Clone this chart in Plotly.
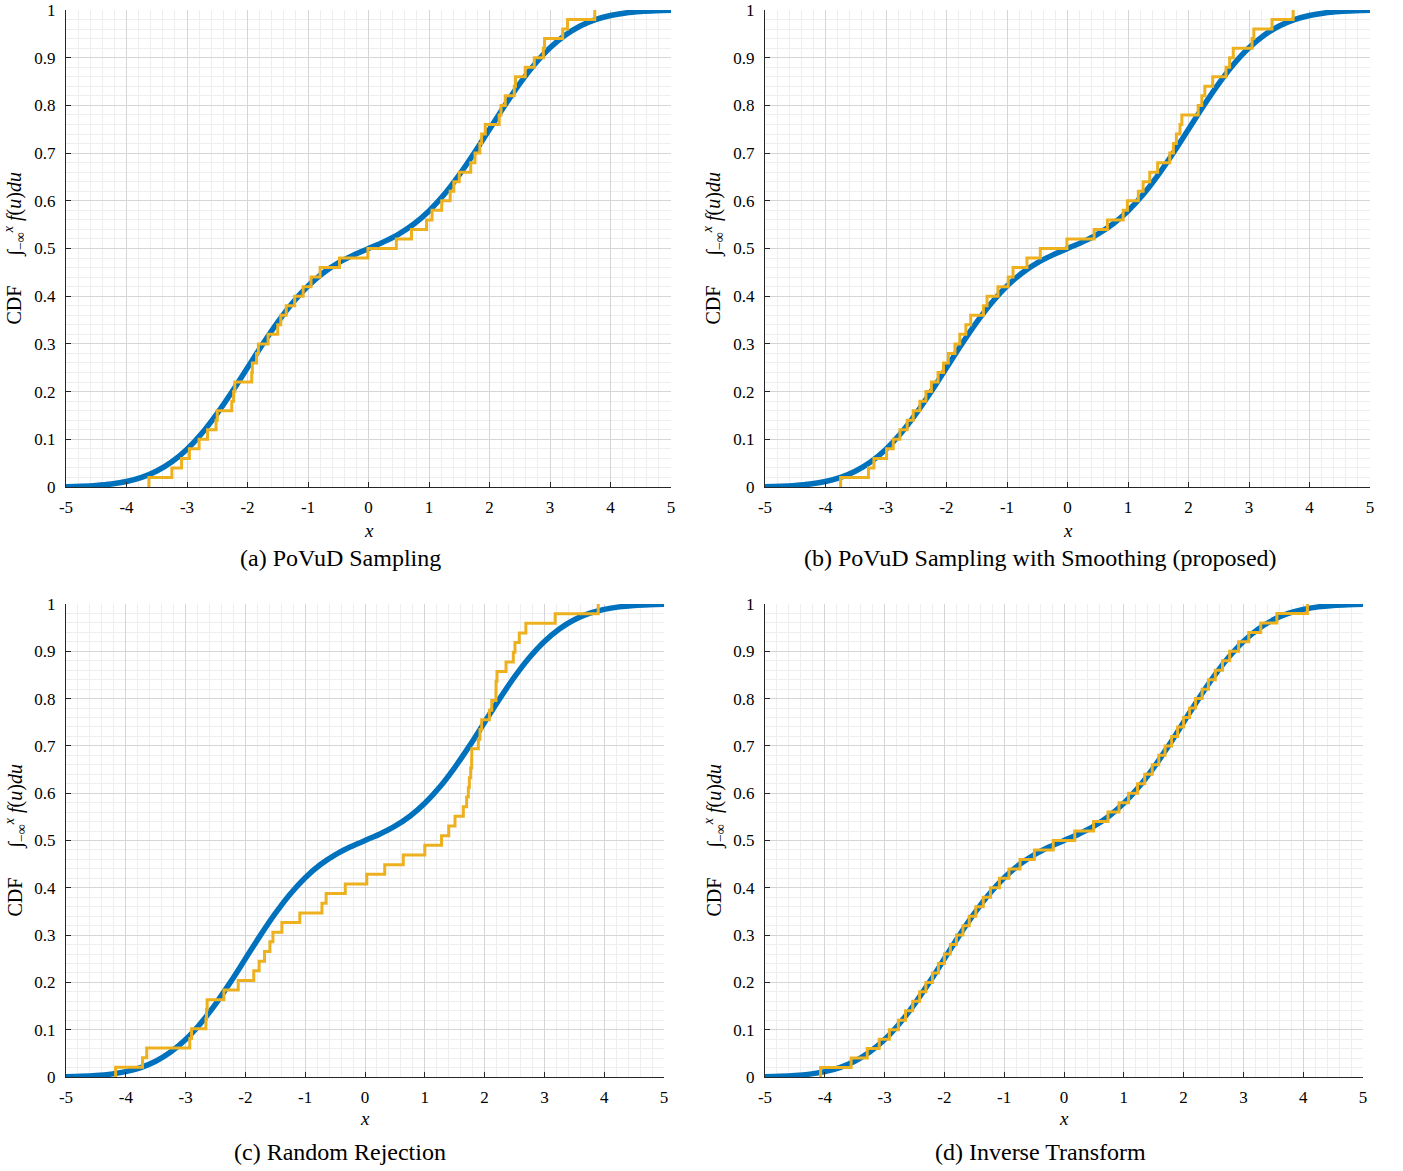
import plotly.graph_objects as go

# ---------------- data ----------------
cdf_x = [-5, -4.75, -4.5, -4.25, -4, -3.75, -3.5, -3.25, -3, -2.75, -2.5, -2.25, -2,
         -1.75, -1.5, -1.25, -1, -0.75, -0.5, -0.25, 0, 0.25, 0.5, 0.75, 1, 1.25, 1.5,
         1.75, 2, 2.25, 2.5, 2.75, 3, 3.25, 3.5, 3.75, 4, 4.25, 4.5, 4.75, 5]
cdf_y = [0.0007, 0.0015, 0.0031, 0.0061, 0.0114, 0.0200, 0.0334, 0.0528, 0.0793, 0.1133,
         0.1543, 0.2006, 0.2500, 0.2994, 0.3458, 0.3870, 0.4213, 0.4487, 0.4697, 0.4861,
         0.5000, 0.5139, 0.5303, 0.5513, 0.5787, 0.6130, 0.6542, 0.7006, 0.7500, 0.7994,
         0.8457, 0.8867, 0.9207, 0.9472, 0.9666, 0.9800, 0.9886, 0.9939, 0.9969, 0.9985,
         0.9993]

samples_a = [-3.63, -3.25, -3.09, -2.96, -2.80, -2.66, -2.52, -2.50, -2.26, -2.23,
             -2.21, -1.93, -1.92, -1.85, -1.82, -1.66, -1.50, -1.45, -1.36, -1.22,
             -1.08, -0.95, -0.80, -0.48, -0.01, 0.46, 0.71, 0.96, 1.05, 1.21,
             1.35, 1.41, 1.50, 1.69, 1.76, 1.84, 1.87, 1.93, 2.16, 2.19,
             2.26, 2.41, 2.43, 2.59, 2.74, 2.89, 2.91, 3.21, 3.29, 3.74]
samples_b = [-3.75, -3.29, -3.20, -2.99, -2.88, -2.77, -2.65, -2.55, -2.44, -2.34,
             -2.25, -2.14, -2.05, -1.97, -1.86, -1.78, -1.68, -1.60, -1.39, -1.33,
             -1.15, -0.98, -0.90, -0.67, -0.45, -0.01, 0.44, 0.66, 0.92, 0.99,
             1.17, 1.25, 1.36, 1.49, 1.69, 1.75, 1.80, 1.86, 1.89, 2.16,
             2.22, 2.27, 2.40, 2.62, 2.68, 2.74, 3.05, 3.08, 3.38, 3.73]
samples_c = [-4.17, -3.72, -3.65, -2.93, -2.90, -2.66, -2.65, -2.64, -2.36, -2.12,
             -1.86, -1.77, -1.68, -1.59, -1.54, -1.39, -1.09, -0.72, -0.65, -0.33,
             0.03, 0.33, 0.64, 1.00, 1.28, 1.40, 1.505, 1.644, 1.70, 1.728,
             1.745, 1.767, 1.784, 1.786, 1.895, 1.923, 1.951, 2.08, 2.12, 2.19,
             2.192, 2.207, 2.358, 2.48, 2.508, 2.58, 2.69, 3.18, 3.90]
samples_d = [-4.07, -3.56, -3.29, -3.09, -2.92, -2.77, -2.65, -2.53, -2.415, -2.31,
             -2.20, -2.10, -2.00, -1.90, -1.80, -1.69, -1.585, -1.475, -1.35, -1.23,
             -1.08, -0.92, -0.735, -0.495, -0.18, 0.18, 0.495, 0.735, 0.92, 1.08,
             1.23, 1.35, 1.475, 1.585, 1.69, 1.80, 1.90, 2.00, 2.10, 2.20,
             2.31, 2.415, 2.53, 2.65, 2.77, 2.92, 3.09, 3.29, 3.56, 4.07]

captions = ["(a) PoVuD Sampling", "(b) PoVuD Sampling with Smoothing (proposed)",
            "(c) Random Rejection", "(d) Inverse Transform"]
x_ticks = [-5, -4, -3, -2, -1, 0, 1, 2, 3, 4, 5]
x_tick_text = ["-5", "-4", "-3", "-2", "-1", "0", "1", "2", "3", "4", "5"]
y_ticks = [0, 0.1, 0.2, 0.3, 0.4, 0.5, 0.6, 0.7, 0.8, 0.9, 1]
y_tick_text = ["0", "0.1", "0.2", "0.3", "0.4", "0.5", "0.6", "0.7", "0.8", "0.9", "1"]

# ---------------- layout geometry (pixels) ----------------
W, H = 1403, 1171
panels = [  # plot area edges, caption centre x, y-label x, x-title y, caption y
    dict(l=66, r=671, t=10, b=487, cap=340, ylab=15, xt=530, cy=558),
    dict(l=765, r=1370, t=10, b=487, cap=1040, ylab=714, xt=530, cy=558),
    dict(l=66, r=664, t=604, b=1077, cap=340, ylab=15, xt=1118, cy=1152),
    dict(l=765, r=1363, t=604, b=1077, cap=1040, ylab=714, xt=1118, cy=1152),
]
all_samples = [samples_a, samples_b, samples_c, samples_d]

BLUE = "#0072BD"
ORANGE = "#EDB120"
MAJOR = "#d6d6d6"
MINOR = "#eeeeee"
AX = "#262626"
FONT = "Liberation Serif"

fig = go.Figure()
layout = dict(width=W, height=H, autosize=False, margin=dict(l=0, r=0, t=0, b=0, pad=0),
              paper_bgcolor="white", plot_bgcolor="white", showlegend=False,
              font=dict(family=FONT, color="black"))
annotations = []

for i, (p, s) in enumerate(zip(panels, all_samples)):
    n = len(s)
    xs = [s[0]] + list(s)
    ys = [0] + [(k + 1) / n for k in range(n)]
    suf = "" if i == 0 else str(i + 1)
    fig.add_trace(go.Scatter(x=cdf_x, y=cdf_y, mode="lines",
                             line=dict(color=BLUE, width=5.5, shape="spline", smoothing=1.0),
                             xaxis="x" + suf, yaxis="y" + suf, hoverinfo="skip"))
    fig.add_trace(go.Scatter(x=xs, y=ys, mode="lines",
                             line=dict(color=ORANGE, width=3, shape="hv"),
                             xaxis="x" + suf, yaxis="y" + suf, hoverinfo="skip"))
    xdom = [p["l"] / W, p["r"] / W]
    ydom = [1 - p["b"] / H, 1 - p["t"] / H]
    layout["xaxis" + suf] = dict(
        domain=xdom, range=[-5, 5], anchor="y" + suf, automargin=False,
        tickmode="array", tickvals=x_ticks, ticktext=x_tick_text,
        ticks="inside", ticklen=5, tickcolor=AX, tickwidth=1,
        showline=True, linecolor=AX, linewidth=1, mirror=False,
        showgrid=True, gridcolor=MAJOR, gridwidth=1, zeroline=False,
        minor=dict(dtick=0.2, tick0=-5, showgrid=True, gridcolor=MINOR, gridwidth=1),
        tickfont=dict(family=FONT, size=17, color="black"), ticklabelstandoff=5,
        fixedrange=True)
    layout["yaxis" + suf] = dict(
        domain=ydom, range=[0, 1], anchor="x" + suf, automargin=False,
        tickmode="array", tickvals=y_ticks, ticktext=y_tick_text,
        ticks="inside", ticklen=5, tickcolor=AX, tickwidth=1,
        showline=True, linecolor=AX, linewidth=1, mirror=False,
        showgrid=True, gridcolor=MAJOR, gridwidth=1, zeroline=False,
        minor=dict(dtick=0.02, tick0=0, showgrid=True, gridcolor=MINOR, gridwidth=1),
        tickfont=dict(family=FONT, size=17, color="black"), ticklabelstandoff=6,
        fixedrange=True)
    cx = (p["l"] + p["r"]) / 2
    annotations.append(dict(text="<i>x</i>", x=cx / W, y=1 - p["xt"] / H,
                            xref="paper", yref="paper", showarrow=False,
                            xanchor="center", yanchor="middle",
                            font=dict(family=FONT, size=19, color="black")))
    annotations.append(dict(text=captions[i], x=p["cap"] / W, y=1 - p["cy"] / H,
                            xref="paper", yref="paper", showarrow=False,
                            xanchor="center", yanchor="middle",
                            font=dict(family=FONT, size=24, color="black")))
    annotations.append(dict(
        text="CDF      ∫<sub>−∞</sub><sup><i>x</i></sup> <i>f</i>(<i>u</i>)<i>du</i>",
        x=p["ylab"] / W, y=1 - ((p["t"] + p["b"]) / 2) / H,
        xref="paper", yref="paper", showarrow=False, textangle=-90,
        xanchor="center", yanchor="middle",
        font=dict(family=FONT, size=20, color="black")))

layout["annotations"] = annotations
fig.update_layout(**layout)
fig.write_html("out.html")
